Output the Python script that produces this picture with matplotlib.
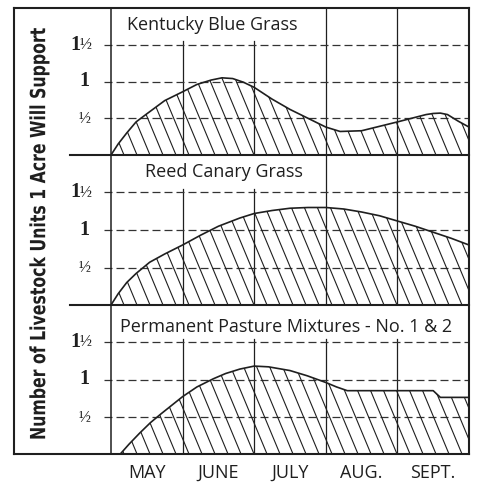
import matplotlib
matplotlib.use("Agg")
import matplotlib.pyplot as plt
import numpy as np
from matplotlib.collections import LineCollection
from matplotlib.lines import Line2D
from matplotlib.patheffects import AbstractPathEffect
from matplotlib import transforms

# canvas size in pixels (dpi 100)
W, H = 478, 484
INK = "#1f1f1f"

months = ["MAY", "JUNE", "JULY", "AUG.", "SEPT."]
ytick_vals = [0.5, 1.0, 1.5]
ytick_labels = ["½", "1", "1½"]

titles = [
    "Kentucky Blue Grass",
    "Reed Canary Grass",
    "Permanent Pasture Mixtures - No. 1 & 2",
]

# carrying capacity through the season, x in months from 1 May
kentucky_x = [0.0, 0.1, 0.22, 0.35, 0.5, 0.75, 1.0, 1.2, 1.4, 1.55, 1.7, 1.85,
              2.0, 2.25, 2.5, 2.75, 3.0, 3.2, 3.5, 3.75, 4.0, 4.2, 4.4, 4.5,
              4.6, 4.7, 4.85, 5.0]
kentucky_y = [0.0, 0.15, 0.30, 0.45, 0.56, 0.74, 0.86, 0.96, 1.02, 1.05, 1.04,
              0.99, 0.92, 0.76, 0.62, 0.50, 0.38, 0.32, 0.33, 0.39, 0.45, 0.50,
              0.55, 0.565, 0.57, 0.55, 0.46, 0.38]

reed_x = [0.0, 0.1, 0.22, 0.35, 0.54, 0.75, 1.0, 1.25, 1.5, 1.8, 2.0, 2.25,
          2.5, 2.75, 3.0, 3.25, 3.5, 3.75, 4.0, 4.25, 4.5, 4.75, 5.0]
reed_y = [0.0, 0.15, 0.30, 0.42, 0.57, 0.68, 0.80, 0.93, 1.05, 1.16, 1.22,
          1.26, 1.29, 1.30, 1.30, 1.28, 1.24, 1.19, 1.12, 1.05, 0.97, 0.89, 0.80]

mixture_x = [0.13, 0.25, 0.4, 0.55, 0.7, 1.0, 1.2, 1.43, 1.6, 1.8, 2.0, 2.2,
             2.5, 2.74, 3.0, 3.15, 3.3, 4.5, 4.6, 5.0]
mixture_y = [0.0, 0.13, 0.28, 0.42, 0.54, 0.77, 0.90, 1.01, 1.08, 1.14, 1.18,
             1.17, 1.12, 1.05, 0.96, 0.90, 0.85, 0.85, 0.76, 0.76]

series = [(kentucky_x, kentucky_y), (reed_x, reed_y), (mixture_x, mixture_y)]

# panel boxes in pixels: (top, bottom); plot area spans x 111..469
PLOT_L, PLOT_R = 111, 469
panel_rows = [(8, 155), (155, 305), (305, 454)]
title_pos = [(127, 25), (145, 172), (120, 327)]
LABEL_FONT = "Open Sans"


def fx(x):
    return x / W


def fy(y):
    return 1 - y / H


class Squash(AbstractPathEffect):
    """Scale the glyph outlines about a point, to get a condensed face."""

    def __init__(self, sx, sy, cx, cy):
        super().__init__()
        self._t = (transforms.Affine2D().translate(-cx, -cy)
                   .scale(sx, sy).translate(cx, cy))

    def draw_path(self, renderer, gc, tpath, affine, rgbFace=None):
        renderer.draw_path(gc, tpath, affine + self._t, rgbFace)


def hatch(ax, xs, ys, spacing=13.0, slope=2.4):
    """Diagonal shading under the curve, clipped to the filled area."""
    fill = ax.fill_between(xs, 0, ys, facecolor="none", edgecolor="none")
    pos = ax.get_position()
    ppx = pos.width * W / 5.0
    ppy = pos.height * H / 2.0
    shift = 2.0 * ppy / slope / ppx
    starts = np.arange(0, 5 + shift, spacing / ppx)
    segs = [[(s, 0), (s - shift, 2.0)] for s in starts]
    lc = LineCollection(segs, colors=INK, linewidths=0.8)
    ax.add_collection(lc)
    lc.set_clip_path(fill.get_paths()[0], fill.get_transform())


fig = plt.figure(figsize=(W / 100, H / 100), dpi=100)
fig.patch.set_facecolor("white")
renderer = fig.canvas.get_renderer()

axes = []
for (top, bot), (xs, ys), title, (tx, ty) in zip(panel_rows, series, titles, title_pos):
    ax = fig.add_axes([fx(PLOT_L), fy(bot), (PLOT_R - PLOT_L) / W, (bot - top) / H])
    ax.set_xlim(0, 5)
    ax.set_ylim(0, 2.0)
    for side in ["top", "right", "bottom"]:
        ax.spines[side].set_visible(False)
    ax.spines["left"].set_linewidth(1.1)
    ax.spines["left"].set_color(INK)
    ax.set_xticks([])
    ax.set_yticks([])

    ttl = fig.text(fx(tx), fy(ty), title, ha="left", va="center", family=LABEL_FONT,
                   fontsize=13, color=INK)
    tb = ttl.get_window_extent(renderer)

    # month dividers; the ones running into the panel title stop just above 1½
    for m in range(1, 5):
        xpix = PLOT_L + m * (PLOT_R - PLOT_L) / 5
        top_frac = 1.55 / 2.0 if tb.x0 - 4 <= xpix <= tb.x1 + 4 else 1.0
        ax.axvline(m, ymax=top_frac, color=INK, lw=0.9, zorder=1)

    # dashed guide lines poking out to the left of the plot
    for v in ytick_vals:
        ax.axhline(v, xmin=-7 / (PLOT_R - PLOT_L), xmax=1, clip_on=False,
                   color="#333333", lw=0.9, dashes=(6.4, 3.2), zorder=1)

    hatch(ax, xs, ys)
    ax.plot(xs, ys, color=INK, lw=1.2, solid_capstyle="round",
            solid_joinstyle="round", zorder=3)

    # value labels on the left
    tr = transforms.blended_transform_factory(fig.transFigure, ax.transData)
    for v, lab in zip(ytick_vals, ytick_labels):
        if lab == "1½":
            ax.text(fx(80), v, "1", transform=tr, ha="right", va="center",
                    family="Liberation Serif", weight="bold", fontsize=14.5, color=INK)
            ax.text(fx(79.5), v + 0.01, "½", transform=tr, ha="left", va="center",
                    family="Liberation Serif", fontsize=11.5, color=INK)
        elif lab == "1":
            ax.text(fx(84.5), v, lab, transform=tr, ha="center", va="center",
                    family="Liberation Serif", weight="bold", fontsize=14.5, color=INK)
        else:
            ax.text(fx(84.5), v, lab, transform=tr, ha="center", va="center",
                    family="Liberation Serif", fontsize=11.5, color=INK)

    axes.append(ax)

# month names under the last panel
axes[-1].set_xticks(np.arange(len(months)) + 0.5, months)
axes[-1].tick_params(axis="x", length=0, pad=7, labelsize=13, labelcolor=INK)
for lbl in axes[-1].get_xticklabels():
    lbl.set_family(LABEL_FONT)

# outer frame and panel separators
frame = [
    ((14, 8), (469, 8)), ((14, 8), (14, 454)), ((14, 454), (469, 454)),
    ((469, 8), (469, 454)), ((70, 155), (469, 155)), ((70, 305), (469, 305)),
]
for (x0, y0), (x1, y1) in frame:
    fig.add_artist(Line2D([fx(x0), fx(x1)], [fy(y0), fy(y1)],
                          transform=fig.transFigure, color=INK, lw=1.5))

# tall, narrow axis title: a bold face stretched across its strokes
ylab_x, ylab_y, ylab_len = 39, 235, 410
ylab = fig.text(fx(ylab_x), fy(ylab_y), "Number of Livestock Units 1 Acre Will Support",
                rotation=90, ha="center", va="center", family="DejaVu Sans",
                weight="bold", fontsize=11, color=INK)
span = ylab.get_window_extent(renderer).height
ylab.set_path_effects([Squash(15 / 11, ylab_len / span, ylab_x, H - ylab_y)])

fig.savefig("out.png", dpi=100, facecolor="white")
